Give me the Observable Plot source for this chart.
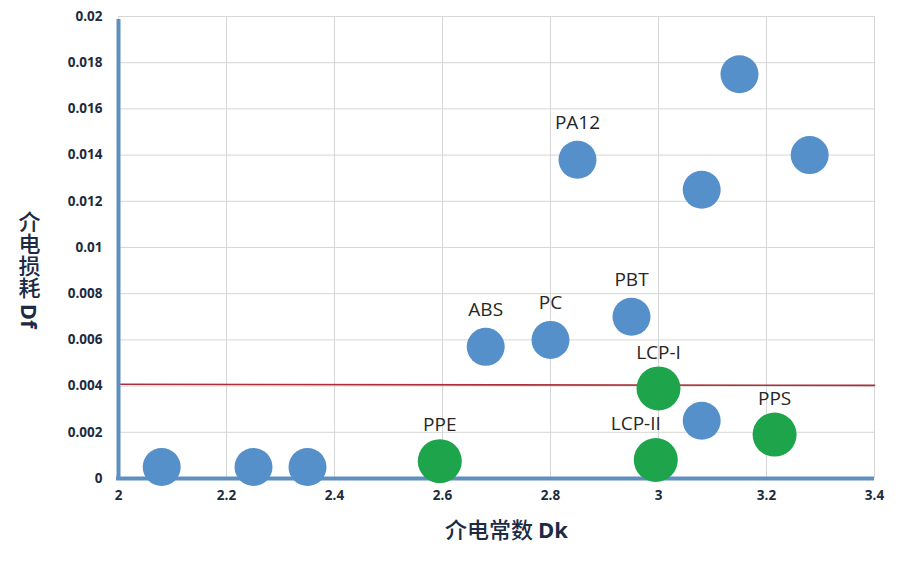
<!DOCTYPE html>
<html>
<head>
<meta charset="utf-8">
<script src="https://cdn.jsdelivr.net/npm/d3@7"></script>
<script src="https://cdn.jsdelivr.net/npm/@observablehq/plot@0.6"></script>
<style>
  html, body { margin: 0; padding: 0; background: #fff; }
  #chart svg { display: block; }
</style>
</head>
<body>
<div id="chart"></div>
<script>
// Blue materials (dielectric constant Dk, dissipation factor Df)
const blueNames = ["", "", "", "ABS", "PC", "PA12", "PBT", "", "", "", ""];
const blueDk = [2.08, 2.25, 2.35, 2.68, 2.80, 2.85, 2.95, 3.08, 3.08, 3.15, 3.28];
const blueDf = [0.0005, 0.0005, 0.0005, 0.0057, 0.0060, 0.0138, 0.0070, 0.0025, 0.0125, 0.0175, 0.0140];

// Green materials
const greenNames = ["PPE", "LCP-I", "LCP-II", "PPS"];
const greenDk = [2.595, 3.0, 2.995, 3.215];
const greenDf = [0.00075, 0.0039, 0.0008, 0.0019];

// Reference (threshold) line
const refDk = [2.0, 3.4];
const refDf = [0.00408, 0.00403];

// Axis ticks
const xTicks = [2, 2.2, 2.4, 2.6, 2.8, 3, 3.2, 3.4];
const yTicks = [0, 0.002, 0.004, 0.006, 0.008, 0.01, 0.012, 0.014, 0.016, 0.018, 0.02];

const xTitle = "介电常数 Dk";
const yTitle = "介电损耗 Df";

const blue = blueDk.map((x, i) => ({x, y: blueDf[i], name: blueNames[i]}));
const green = greenDk.map((x, i) => ({x, y: greenDf[i], name: greenNames[i]}));
const ref = refDk.map((x, i) => ({x, y: refDf[i]}));

const labelFont = {fontFamily: "'Open Sans', sans-serif", fontSize: 19, fontWeight: 400, fill: "#262626"};
const blueLabeled = blue.filter(d => d.name);
const greenMain = green.filter(d => d.name !== "LCP-II");
const greenLCP2 = green.filter(d => d.name === "LCP-II");

const chart = Plot.plot({
  width: 905,
  height: 562,
  marginLeft: 118,
  marginRight: 31,
  marginTop: 16,
  marginBottom: 84,
  style: {background: "#fff", overflow: "visible"},
  x: {domain: [2, 3.4], ticks: xTicks, tickFormat: d => String(d), tickSize: 0, tickPadding: 12, label: null},
  y: {domain: [0, 0.02], ticks: yTicks, tickFormat: d => String(+d.toFixed(3)), tickSize: 0, tickPadding: 16, label: null},
  marks: [
    Plot.ruleX(xTicks, {stroke: "#d6d6d6", strokeWidth: 1}),
    Plot.ruleY(yTicks, {stroke: "#d6d6d6", strokeWidth: 1}),
    Plot.line(ref, {x: "x", y: "y", stroke: "#a9303a", strokeWidth: 1.6}),
    Plot.ruleX([2], {stroke: "#5f8fbf", strokeWidth: 4, y1: 0, y2: 0.02, insetBottom: -3}),
    Plot.ruleY([0], {stroke: "#5f8fbf", strokeWidth: 4, x1: 2, x2: 3.4, insetLeft: -2}),
    Plot.dot(blue, {x: "x", y: "y", r: 19, fill: "#5590cb", stroke: "none"}),
    Plot.dot(green, {x: "x", y: "y", r: 22, fill: "#1ea54c", stroke: "none"}),
    Plot.text(blueLabeled, {x: "x", y: "y", text: "name", dy: -37, ...labelFont}),
    Plot.text(greenMain, {x: "x", y: "y", text: "name", dy: -36, ...labelFont}),
    Plot.text(greenLCP2, {x: "x", y: "y", text: "name", dy: -36, dx: -20, ...labelFont}),
    Plot.text([xTitle], {frameAnchor: "bottom", dy: 59, dx: 10, text: d => d, className: "xtitle",
      fontSize: 22, fill: "#1c2b45", fontFamily: "'Noto Sans CJK SC', sans-serif"}),
    Plot.text([yTitle], {frameAnchor: "left", dx: -89, dy: 15, text: d => d, className: "ytitle",
      fontSize: 22, fill: "#1c2b45", fontFamily: "'Noto Sans CJK SC', sans-serif"})
  ]
});

document.getElementById("chart").appendChild(chart);
const svg = d3.select(chart);

// Tick labels: bold, dark navy
const tickSet = new Set([...xTicks.map(String), ...yTicks.map(d => String(+d.toFixed(3)))]);
svg.selectAll("text").filter(function () { return tickSet.has(this.textContent.trim()); })
  .style("font-size", "13.5px").style("font-weight", "700").style("fill", "#1c2b3f")
  .style("font-family", "'Open Sans', sans-serif");

// Mixed-weight titles: CJK part regular, Latin part bold
function splitTitle(sel, full) {
  const t = sel.select("text");
  const [cjk, latin] = full.split(" ");
  t.text(null);
  t.append("tspan").text(cjk + " ").style("font-weight", "500");
  t.append("tspan").text(latin).style("font-weight", "700").style("font-family", "'Open Sans', sans-serif");
}
splitTitle(svg.select(".xtitle"), xTitle);
const yt = svg.select(".ytitle");
splitTitle(yt, yTitle);
yt.select("text").attr("writing-mode", "vertical-rl").style("writing-mode", "vertical-rl").attr("text-anchor", "middle");
</script>
</body>
</html>
